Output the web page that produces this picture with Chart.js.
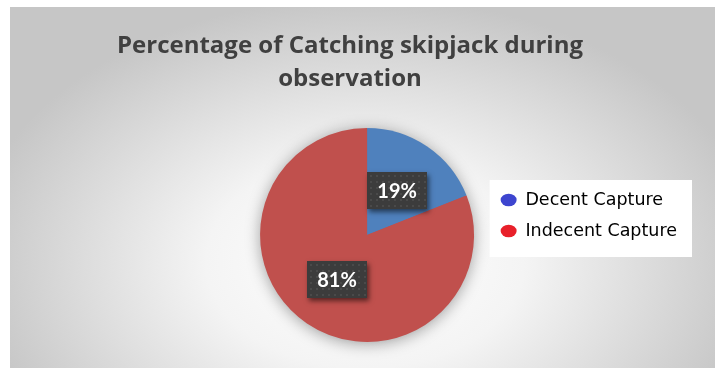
<!DOCTYPE html>
<html>
<head>
<meta charset="utf-8">
<script src="https://cdn.jsdelivr.net/npm/chart.js@4.4.1/dist/chart.umd.min.js"></script>
<style>
  html, body { margin: 0; padding: 0; background: #fff; }
  #wrap { position: relative; width: 715px; height: 368px; }
</style>
</head>
<body>
<div id="wrap"><canvas id="myChartCapture"></canvas></div>
<script>
const categories = ["Decent Capture", "Indecent Capture"];
const shares = [19, 81];
const sliceColors = ["#4F81BD", "#C0504D"];
const legendColors = ["#3D45CF", "#E8202A"];
const titleLines = ["Percentage of Catching skipjack during", "observation"];

// grey radial backdrop and the white card behind the legend
const backdrop = {
  id: "backdrop",
  beforeDraw(chart) {
    const ctx = chart.ctx;
    const w = chart.width, h = chart.height;
    ctx.save();
    ctx.fillStyle = "#ffffff";
    ctx.fillRect(0, 0, w, h);
    ctx.translate(365, 262);
    ctx.scale(1.5, 1);
    const g = ctx.createRadialGradient(0, 0, 0, 0, 0, 265);
    g.addColorStop(0, "#ffffff");
    g.addColorStop(0.4, "#f4f4f4");
    g.addColorStop(1, "#c6c6c6");
    ctx.fillStyle = g;
    ctx.fillRect((10 - 365) / 1.5, 7 - 262, (w - 10) / 1.5, h - 7);
    ctx.restore();

    const lg = chart.legend;
    const mid = (lg.top + lg.bottom) / 2;
    ctx.save();
    ctx.fillStyle = "#ffffff";
    ctx.fillRect(lg.left + 2.5, mid - 35.5, lg.right - lg.left + 2.5, 77);
    ctx.restore();
  }
};

// soft shadow under the whole pie
const pieShadow = {
  id: "pieShadow",
  beforeDatasetsDraw(chart) {
    const arc = chart.getDatasetMeta(0).data[0];
    if (!arc) return;
    const { x, y, outerRadius } = arc.getProps(["x", "y", "outerRadius"], true);
    const ctx = chart.ctx;
    ctx.save();
    ctx.shadowColor = "rgba(0,0,0,0.4)";
    ctx.shadowBlur = 16;
    ctx.shadowOffsetY = 2;
    ctx.fillStyle = sliceColors[1];
    ctx.beginPath();
    ctx.arc(x, y, outerRadius - 1, 0, Math.PI * 2);
    ctx.fill();
    ctx.restore();
  }
};

// dark dotted boxes with the percentage
const sliceLabels = {
  id: "sliceLabels",
  afterDatasetsDraw(chart) {
    const ctx = chart.ctx;
    const meta = chart.getDatasetMeta(0);
    const total = shares.reduce((a, b) => a + b, 0);
    meta.data.forEach((arc, i) => {
      const p = arc.getProps(["x", "y", "startAngle", "endAngle", "outerRadius"], true);
      const a = (p.startAngle + p.endAngle) / 2;
      const cx = p.x + Math.cos(a) * p.outerRadius * 0.5;
      const cy = p.y + Math.sin(a) * p.outerRadius * 0.5;
      const bw = 60, bh = 37;
      const bx = Math.round(cx - bw / 2), by = Math.round(cy - bh / 2);
      ctx.save();
      ctx.shadowColor = "rgba(0,0,0,0.55)";
      ctx.shadowBlur = 5;
      ctx.shadowOffsetX = 2;
      ctx.shadowOffsetY = 3;
      ctx.fillStyle = "#3c3c3c";
      ctx.fillRect(bx, by, bw, bh);
      ctx.restore();
      ctx.save();
      ctx.fillStyle = "#4a4a4a";
      for (let yy = by + 3; yy < by + bh; yy += 6) {
        for (let xx = bx + 3; xx < bx + bw; xx += 6) {
          ctx.fillRect(xx, yy, 2, 2);
        }
      }
      ctx.fillStyle = "#ffffff";
      ctx.font = "bold 20px Lato";
      ctx.textAlign = "center";
      ctx.textBaseline = "middle";
      ctx.fillText(Math.round(shares[i] / total * 100) + "%", cx, cy + 1);
      ctx.restore();
    });
  }
};

// move the title and legend boxes off their default layout spots
const nudge = {
  id: "nudge",
  afterLayout(chart, args, opts) {
    const t = chart.titleBlock;
    t.left = opts.titleLeft;
    t.right = opts.titleRight;
    t.width = t.right - t.left;
    const lg = chart.legend;
    lg.top += opts.legendY;
    lg.bottom += opts.legendY;
  }
};

const ctxCapture = document.getElementById("myChartCapture").getContext("2d");
new Chart(ctxCapture, {
  type: "pie",
  data: {
    labels: categories,
    datasets: [
      {
        data: shares,
        backgroundColor: sliceColors,
        borderWidth: 0,
      },
    ],
  },
  options: {
    responsive: true,
    maintainAspectRatio: false,
    animation: false,
    layout: {
      padding: { left: 247, right: 28, top: 0, bottom: 26 },
    },
    plugins: {
      title: {
        display: true,
        text: titleLines,
        color: "#404040",
        font: { family: "Open Sans", size: 24, weight: "bold", lineHeight: 1.375 },
        padding: { top: 30, bottom: 32 },
      },
      legend: {
        position: "right",
        fullSize: false,
        labels: {
          usePointStyle: true,
          pointStyleWidth: 16,
          boxHeight: 9,
          padding: 13.5,
          color: "#24243a",
          font: { family: "DejaVu Sans", size: 17.5 },
          generateLabels() {
            return categories.map((c, i) => ({
              text: c,
              fillStyle: legendColors[i],
              strokeStyle: legendColors[i],
              lineWidth: 0,
              pointStyle: "circle",
              hidden: false,
              index: i,
            }));
          },
        },
      },
      tooltip: { enabled: false },
      nudge: { titleLeft: 10, titleRight: 690, legendY: -19.5 },
    },
  },
  plugins: [backdrop, pieShadow, sliceLabels, nudge],
});
</script>
</body>
</html>
